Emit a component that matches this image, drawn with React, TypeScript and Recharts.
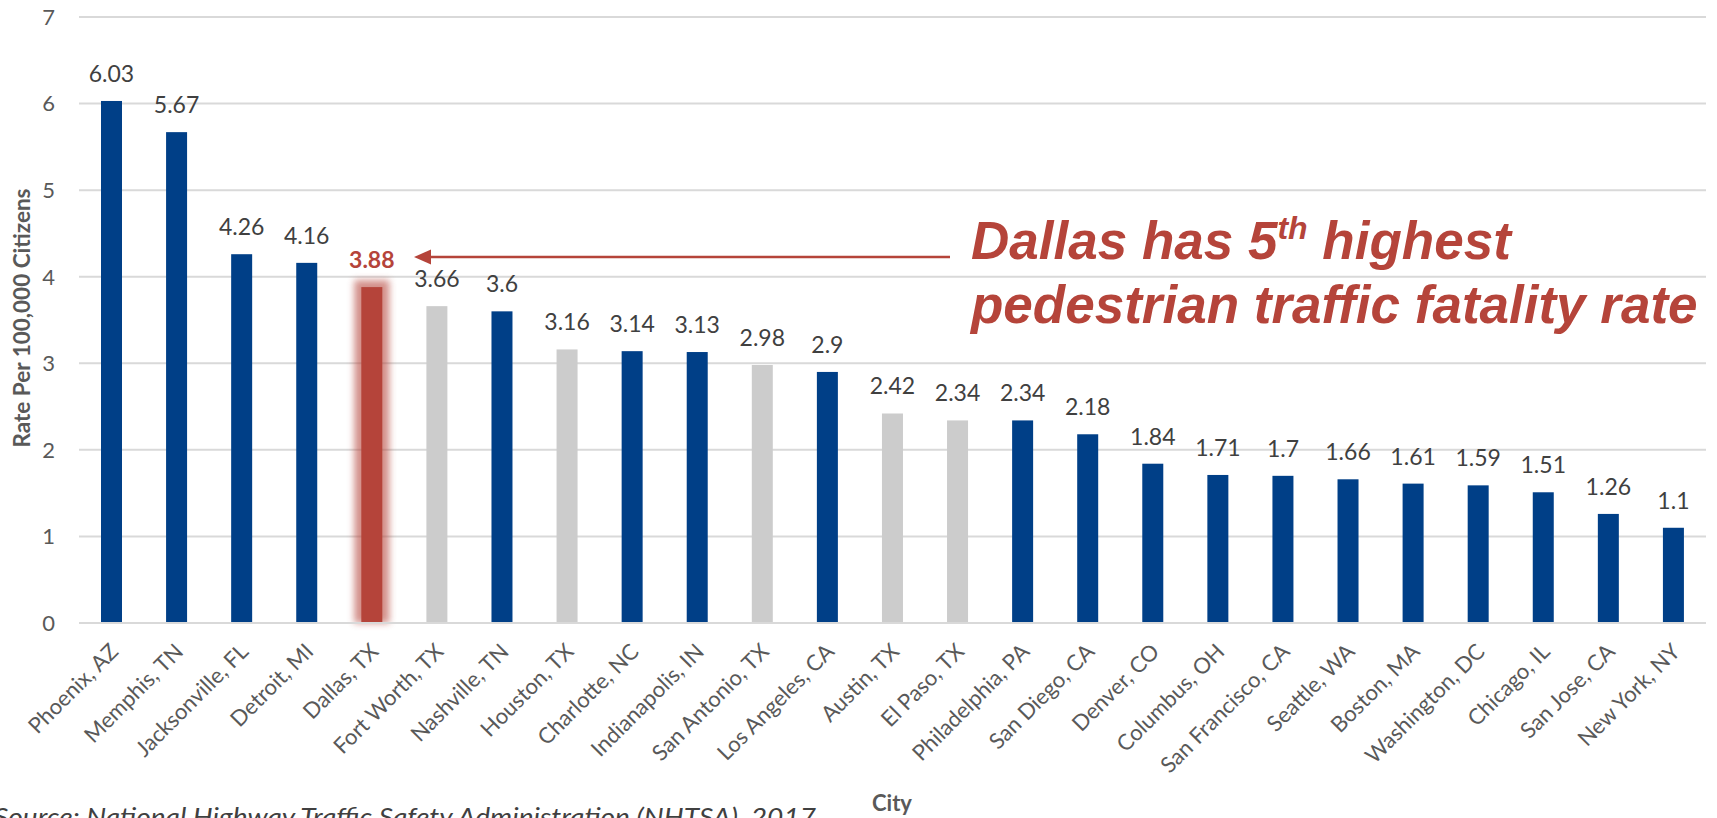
import { BarChart, Bar, XAxis, YAxis, CartesianGrid, Cell, LabelList } from 'recharts'

const cities = [
  'Phoenix, AZ', 'Memphis, TN', 'Jacksonville, FL', 'Detroit, MI', 'Dallas, TX',
  'Fort Worth, TX', 'Nashville, TN', 'Houston, TX', 'Charlotte, NC', 'Indianapolis, IN',
  'San Antonio, TX', 'Los Angeles, CA', 'Austin, TX', 'El Paso, TX', 'Philadelphia, PA',
  'San Diego, CA', 'Denver, CO', 'Columbus, OH', 'San Francisco, CA', 'Seattle, WA',
  'Boston, MA', 'Washington, DC', 'Chicago, IL', 'San Jose, CA', 'New York, NY',
]
const rates = [
  6.03, 5.67, 4.26, 4.16, 3.88, 3.66, 3.6, 3.16, 3.14, 3.13, 2.98, 2.9, 2.42, 2.34, 2.34,
  2.18, 1.84, 1.71, 1.7, 1.66, 1.61, 1.59, 1.51, 1.26, 1.1,
]
// 'dallas' = highlighted, 'texas' = other Texas cities, 'other' = rest
const groups = [
  'other', 'other', 'other', 'other', 'dallas', 'texas', 'other', 'texas', 'other', 'other',
  'texas', 'other', 'texas', 'texas', 'other', 'other', 'other', 'other', 'other', 'other',
  'other', 'other', 'other', 'other', 'other',
]
const yTicks = [0, 1, 2, 3, 4, 5, 6, 7]

const colors = { other: '#003F87', texas: '#CCCCCC', dallas: '#B5443A' }
const RED = '#B5443A'
const FONT = 'Lato, "Open Sans", sans-serif'

const data = cities.map((city, i) => ({ city, rate: rates[i], group: groups[i] }))

const BarShape = (props) => {
  const { x, y, width, height, fill, payload } = props
  if (payload.group !== 'dallas') {
    return <rect x={x} y={y} width={width} height={height} fill={fill} />
  }
  return (
    <g>
      <defs>
        <filter id="dallasGlow" x="-100%" y="-20%" width="300%" height="140%">
          <feGaussianBlur stdDeviation="3.5" />
        </filter>
      </defs>
      <rect
        x={x - 7}
        y={y - 7}
        width={width + 14}
        height={height + 7}
        fill={RED}
        opacity={0.6}
        filter="url(#dallasGlow)"
      />
      <rect x={x} y={y} width={width} height={height} fill={fill} />
    </g>
  )
}

const ValueLabel = (props) => {
  const { x, y, width, value, index } = props
  const isDallas = groups[index] === 'dallas'
  return (
    <text
      x={x + width / 2}
      y={y - 19}
      textAnchor="middle"
      fontFamily={FONT}
      fontSize={23}
      fontWeight={isDallas ? 700 : 400}
      fill={isDallas ? RED : '#404040'}
    >
      {value}
    </text>
  )
}

const CityTick = ({ x, y, payload }) => (
  <g transform={`translate(${x + 8},${y + 30})`}>
    <text transform="rotate(-45)" textAnchor="end" fontFamily={FONT} fontSize={22} fill="#595959">
      {payload.value}
    </text>
  </g>
)

export default function App() {
  return (
    <div style={{ position: 'absolute', left: 0, top: 0, width: 1717, height: 818, background: '#fff', overflow: 'hidden' }}>
      <BarChart
        width={1717}
        height={818}
        data={data}
        margin={{ top: 17, right: 11, bottom: 0, left: 0 }}
      >
        <CartesianGrid vertical={false} stroke="#D9D9D9" strokeWidth={2} />
        <XAxis
          dataKey="city"
          interval={0}
          height={195}
          tickLine={false}
          axisLine={{ stroke: '#D9D9D9', strokeWidth: 2 }}
          tickSize={0}
          tickMargin={0}
          tick={<CityTick />}
        />
        <YAxis
          width={79}
          domain={[0, 7]}
          ticks={yTicks}
          axisLine={false}
          tickLine={false}
          tickSize={0}
          tickMargin={24}
          tick={{ fontFamily: FONT, fontSize: 22, fill: '#595959' }}
        />
        <Bar dataKey="rate" barSize={21} isAnimationActive={false} shape={<BarShape />}>
          {data.map((d) => (
            <Cell key={d.city} fill={colors[d.group]} />
          ))}
          <LabelList dataKey="rate" content={<ValueLabel />} />
        </Bar>
      </BarChart>
      <svg
        width={1717}
        height={818}
        style={{ position: 'absolute', left: 0, top: 0, pointerEvents: 'none' }}
      >
        <text
          transform="translate(30,318) rotate(-90)"
          textAnchor="middle"
          fontFamily={FONT}
          fontSize={22.5}
          fontWeight={700}
          fill="#595959"
        >
          Rate Per 100,000 Citizens
        </text>
        <text x={892} y={811} textAnchor="middle" fontFamily={FONT} fontSize={22} fontWeight={700} fill="#595959">
          City
        </text>
        <text
          x={-6}
          y={826}
          textLength={822}
          lengthAdjust="spacingAndGlyphs"
          fontFamily={FONT}
          fontSize={25}
          fontStyle="italic"
          fill="#404040"
        >
          Source: National Highway Traffic Safety Administration (NHTSA), 2017
        </text>
        <line x1={428} y1={257} x2={950} y2={257} stroke={RED} strokeWidth={2.5} />
        <polygon points="414,257 431,249.5 431,264.5" fill={RED} />
        <text
          x={971}
          y={259}
          fontFamily='"Liberation Sans", Arial, sans-serif'
          fontSize={53}
          fontWeight={700}
          fontStyle="italic"
          fill={RED}
        >
          Dallas has 5
          <tspan fontSize={32} dy={-20}>th</tspan>
          <tspan dy={20}> highest</tspan>
        </text>
        <text
          x={971}
          y={323}
          fontFamily='"Liberation Sans", Arial, sans-serif'
          fontSize={53}
          fontWeight={700}
          fontStyle="italic"
          fill={RED}
        >
          pedestrian traffic fatality rate
        </text>
      </svg>
    </div>
  )
}
